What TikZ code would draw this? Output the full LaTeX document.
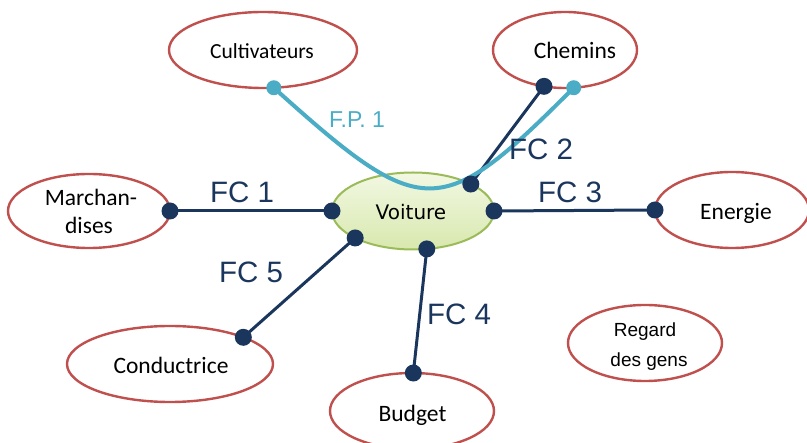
\documentclass[tikz,border=0pt]{standalone}
\usepackage{fontspec}
\setmainfont{Carlito}
\newfontfamily\arialf{Liberation Sans}
\newfontfamily\verdf{DejaVu Sans}
\usetikzlibrary{shapes.geometric}
\definecolor{navy}{HTML}{1B365D}
\definecolor{teal1}{HTML}{4BACC6}
\definecolor{redb}{HTML}{C0504D}
\definecolor{grb}{HTML}{9BBB59}
\definecolor{grtop}{HTML}{F2F8E2}
\definecolor{grbot}{HTML}{D8E8AE}
\tikzset{
  oval/.style={ellipse, draw=redb, line width=2.4pt, fill=white, inner sep=0pt, outer sep=0pt},
  lbl/.style={anchor=base, inner sep=0pt, font=\fontsize{23.5}{28}\selectfont},
  fclbl/.style={anchor=base, inner sep=0pt, text=navy, font=\arialf\fontsize{29.5}{32}\selectfont},
  fcline/.style={draw=navy, line width=3pt},
  fpline/.style={draw=teal1, line width=4pt},
  ndot/.style={fill=navy},
  tdot/.style={fill=teal1}
}
\begin{document}
\begin{tikzpicture}[x=1pt,y=-1pt]
\useasboundingbox (0,0) rectangle (807,443);
% ellipses
\node[oval, minimum width=188, minimum height=76] (cult) at (263,50) {};
\node[oval, minimum width=144, minimum height=76] (chem) at (565,50) {};
\node[oval, minimum width=162, minimum height=74] (march) at (89,211) {};
\node[ellipse, draw=grb, line width=2pt, top color=grtop, bottom color=grbot, inner sep=0pt, outer sep=0pt, minimum width=162, minimum height=77] (voit) at (413,211) {};
\node[oval, minimum width=154, minimum height=76] (ener) at (732,210) {};
\node[oval, minimum width=206, minimum height=76] (cond) at (170,364) {};
\node[oval, minimum width=164, minimum height=76] (budg) at (412,411) {};
\node[oval, minimum width=154, minimum height=76] (reg) at (645,343) {};
% texts
\node[lbl, font=\fontsize{21.5}{26}\selectfont] (tcult) at (262,59) {Cultivateurs};
\node[lbl] (tchem) at (575,59) {Chemins};
\node[lbl] (tmar1) at (91,206) {Marchan-};
\node[lbl] (tmar2) at (89,234) {dises};
\node[lbl, font=\verdf\fontsize{20}{24}\selectfont] (tvoit) at (411,220) {Voiture};
\node[lbl] (tener) at (736,220) {Energie};
\node[lbl] (tcond) at (171,374) {Conductrice};
\node[lbl] (tbudg) at (412.5,422) {Budget};
\node[lbl, font=\arialf\fontsize{19}{24}\selectfont] (treg1) at (645,337) {Regard};
\node[lbl, font=\arialf\fontsize{19}{24}\selectfont] (treg2) at (649,367) {des gens};
% FC connectors
\draw[fcline] (march.0) -- (voit.180);
\draw[fcline] (voit.25.3) -- (chem.240.8);
\draw[fcline] (voit.0) -- (ener.180);
\draw[fcline] (voit.-70.7) -- (budg.88.5);
\draw[fcline] (voit.205.3) -- (cond.20.3);
% FP curve
\draw[fpline] (cult.-74) .. controls (423,222) and (440,222) .. (chem.-77.5);
% dots
\foreach \p in {march.0, voit.180, voit.25.3, chem.240.8, voit.0, ener.180, voit.-70.7, budg.88.5, voit.205.3, cond.20.3}
  \fill[ndot] (\p) circle (8.5);
\fill[tdot] (cult.-74) circle (7.5);
\fill[tdot] (chem.-77.5) circle (7.5);
% labels
\node[fclbl] (fc1) at (242,203) {FC 1};
\node[fclbl] (fc2) at (541,160) {FC 2};
\node[fclbl] (fc3) at (570,203) {FC 3};
\node[fclbl] (fc4) at (459,325) {FC 4};
\node[fclbl] (fc5) at (251,283) {FC 5};
\node[anchor=base, inner sep=0pt, text=teal1, font=\arialf\fontsize{23}{26}\selectfont] (fp1) at (357,128) {F.P. 1};
\end{tikzpicture}
\end{document}
